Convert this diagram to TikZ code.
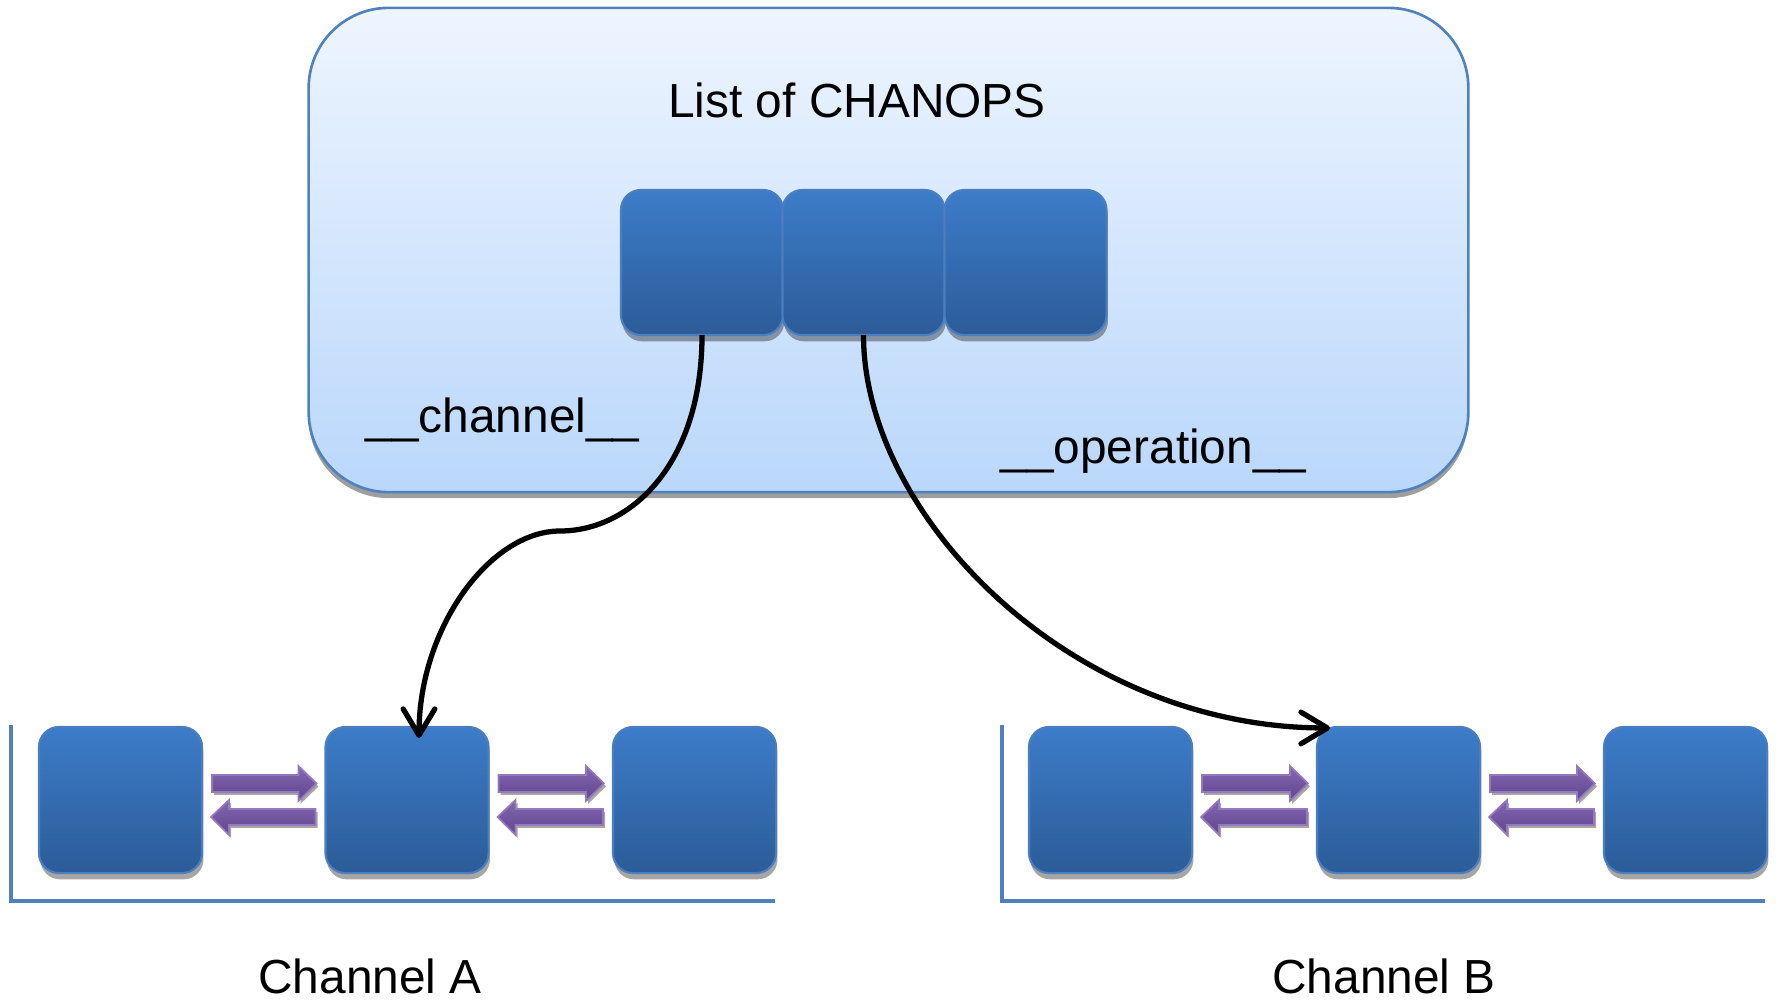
\documentclass[tikz,border=0pt]{standalone}
\usepackage{fontspec}
\setmainfont{Liberation Sans}
\usetikzlibrary{arrows.meta,shadows,calc}

\definecolor{boxtop}{HTML}{3C7CC9}
\definecolor{boxbot}{HTML}{2C5C98}
\definecolor{boxedge}{HTML}{4A7EBF}
\definecolor{paneltop}{HTML}{EEF5FF}
\definecolor{panelbot}{HTML}{BAD7FB}
\definecolor{paneledge}{HTML}{4F81BD}
\definecolor{arrtop}{HTML}{8466B0}
\definecolor{arrbot}{HTML}{5F468E}
\definecolor{arredge}{HTML}{9479BE}

% pair of opposite arrows between two neighbouring boxes
\newcommand\swaparrows[2]{%
  \path[purplearrow]
    ($(#1.east)+(10,-25)$) -- ($(#2.west)+(-27,-25)$) -- ($(#2.west)+(-27,-34)$)
    -- ($(#2.west)+(-9,-16.5)$) -- ($(#2.west)+(-27,1)$) -- ($(#2.west)+(-27,-8)$)
    -- ($(#1.east)+(10,-8)$) -- cycle;
  \path[purplearrow]
    ($(#1.east)+(9,17)$) -- ($(#1.east)+(27,0)$) -- ($(#1.east)+(27,9)$)
    -- ($(#2.west)+(-10,9)$) -- ($(#2.west)+(-10,25)$) -- ($(#1.east)+(27,25)$)
    -- ($(#1.east)+(27,35)$) -- cycle;
}

\begin{document}
\begin{tikzpicture}[x=0.01cm,y=-0.01cm,
  panel/.style={draw=paneledge, line width=0.75pt, rounded corners=0.8cm,
    top color=paneltop, bottom color=panelbot, inner sep=0pt, outer sep=0pt,
    minimum width=11.59cm, minimum height=4.84cm,
    drop shadow={shadow xshift=0pt, shadow yshift=-1.7pt, fill=black, opacity=0.38}},
  bluebox/.style={draw=boxedge, line width=0.6pt, rounded corners=0.2cm,
    top color=boxtop, bottom color=boxbot, inner sep=0pt, outer sep=0pt,
    minimum width=1.62cm, minimum height=1.45cm,
    drop shadow={shadow xshift=0.4pt, shadow yshift=-1.8pt, fill=black, opacity=0.35}},
  purplearrow/.style={draw=arredge, line width=0.5pt, top color=arrtop, bottom color=arrbot,
    drop shadow={shadow xshift=0.6pt, shadow yshift=-0.8pt, fill=black, opacity=0.35}},
  rail/.style={draw=paneledge, line width=1.2pt},
  link/.style={draw=black, line width=1.5pt,
    -{Straight Barb[length=7.5pt,width=9pt,round]}},
  lbl/.style={font=\fontsize{13.6pt}{16pt}\selectfont, inner sep=0pt, anchor=base}
]
\useasboundingbox (0,0) rectangle (1777,1000);

% list of channel/operation pairs
\node[panel] (chanops) at (888.5,250) {};
\node[lbl] (title) at (857,117) {List of CHANOPS};
\node[lbl] (chanlbl) at (502.5,432) {\_\_channel\_\_};
\node[lbl] (oplbl) at (1153.5,463) {\_\_operation\_\_};

\node[bluebox] (t1) at (702,262.5) {};
\node[bluebox] (t2) at (863.5,262.5) {};
\node[bluebox] (t3) at (1025.5,262.5) {};

% channel A
\node[bluebox, minimum width=1.63cm, minimum height=1.46cm] (a1) at (120.5,800) {};
\node[bluebox, minimum width=1.63cm, minimum height=1.46cm] (a2) at (407,800) {};
\node[bluebox, minimum width=1.63cm, minimum height=1.46cm] (a3) at (694.5,800) {};
\swaparrows{a1}{a2}
\swaparrows{a2}{a3}
\draw[rail] (11,725) |- (775,901);
\node[lbl] (chA) at (370,993) {Channel A};

% channel B
\node[bluebox, minimum width=1.63cm, minimum height=1.46cm] (b1) at (1110.5,800) {};
\node[bluebox, minimum width=1.63cm, minimum height=1.46cm] (b2) at (1398.5,800) {};
\node[bluebox, minimum width=1.63cm, minimum height=1.46cm] (b3) at (1685.5,800) {};
\swaparrows{b1}{b2}
\swaparrows{b2}{b3}
\draw[rail] (1002,725) |- (1765,901);
\node[lbl] (chB) at (1384,993) {Channel B};

% references from the list entries to the channel elements
\coordinate (bend) at (560,531);
\coordinate (tipA) at ($(a2.north)+(12,11)$);
\coordinate (tipB) at ($(b2.north west)+(13,1)$);
\draw[link] (t1.south) .. controls +(0,130) and +(70,0) .. (bend)
  .. controls +(-70,0) and +(0,-110) .. (tipA);
\draw[link] (t2.south) .. controls +(0,180) and +(-260,0) .. (tipB);
\end{tikzpicture}
\end{document}
